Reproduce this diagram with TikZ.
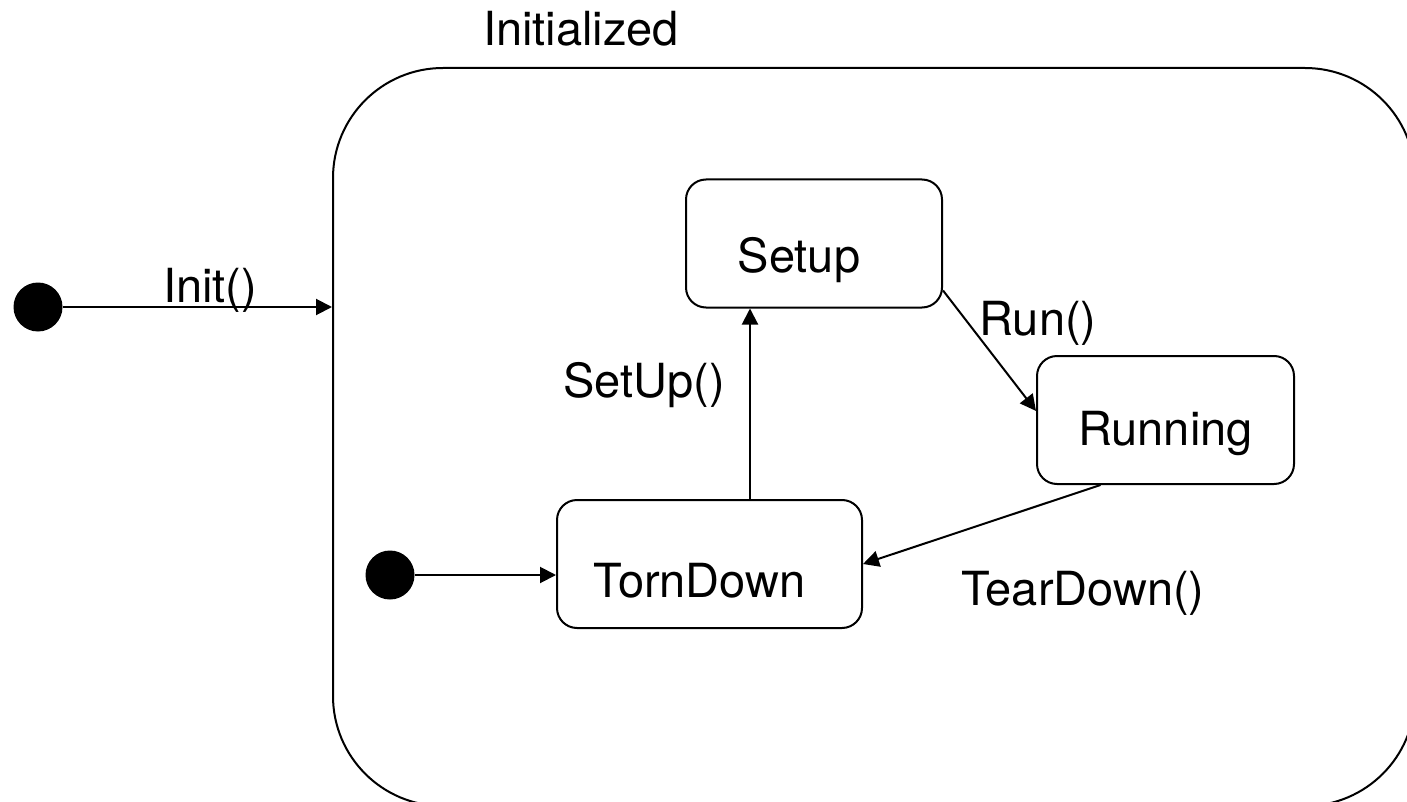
\documentclass[tikz,border=0pt]{standalone}
\usepackage{fontspec}
\setmainfont{TeX Gyre Heros}
\usetikzlibrary{arrows.meta}
\begin{document}
\begin{tikzpicture}[x=0.5pt,y=-0.5pt,
  every node/.style={font=\fontsize{23.5}{28}\selectfont},
  state/.style={draw, line width=1pt, rounded corners=10pt,
    minimum height=64pt, inner sep=0pt, text depth=0pt},
  startdot/.style={circle, fill=black, minimum size=24.5pt, inner sep=0pt},
  trans/.style={line width=1pt, -{Triangle[length=8pt,width=8pt]}},
  lbl/.style={anchor=base, inner sep=0pt}]
  \useasboundingbox (0,0) rectangle (1407,802);
  \clip (0,0) rectangle (1407,802);

  % composite state
  \node[draw, line width=1pt, rounded corners=55pt, minimum width=541pt,
        minimum height=369pt, inner sep=0pt] (init) at (874,437) {};
  \node[lbl] (initlbl) at (581,46) {Initialized};

  % initial pseudo-states
  \node[startdot] (start1) at (38,307) {};
  \node[startdot] (start2) at (390,575) {};

  % substates
  \node[state, minimum width=128pt, text height=29.3pt] (setup) at (814,243.5) {Setup\kern15pt};
  \node[state, minimum width=128.5pt, text height=25.8pt] (run) at (1165.5,420) {Running};
  \node[state, minimum width=152.5pt, text height=33.8pt] (torn) at (709.5,564) {TornDown\kern10pt};

  % transitions
  \coordinate (upx) at (750,0);
  \draw[trans] (start1) -- (start1 -| init.west);
  \draw[trans] (start2) -- (start2 -| torn.west);
  \draw[trans] (torn.north -| upx) -- (setup.south -| upx);
  \draw[trans] (setup.-20.6) -- (run.176);
  \draw[trans] (run.225) -- (torn.east);

  % transition labels
  \node[lbl] (lblinit) at (210,302) {Init()};
  \node[lbl] (lblsetup) at (644,397) {SetUp()};
  \node[lbl] (lblrun) at (1038,335) {Run()};
  \node[lbl] (lbltear) at (1083,605) {TearDown()};
\end{tikzpicture}
\end{document}
